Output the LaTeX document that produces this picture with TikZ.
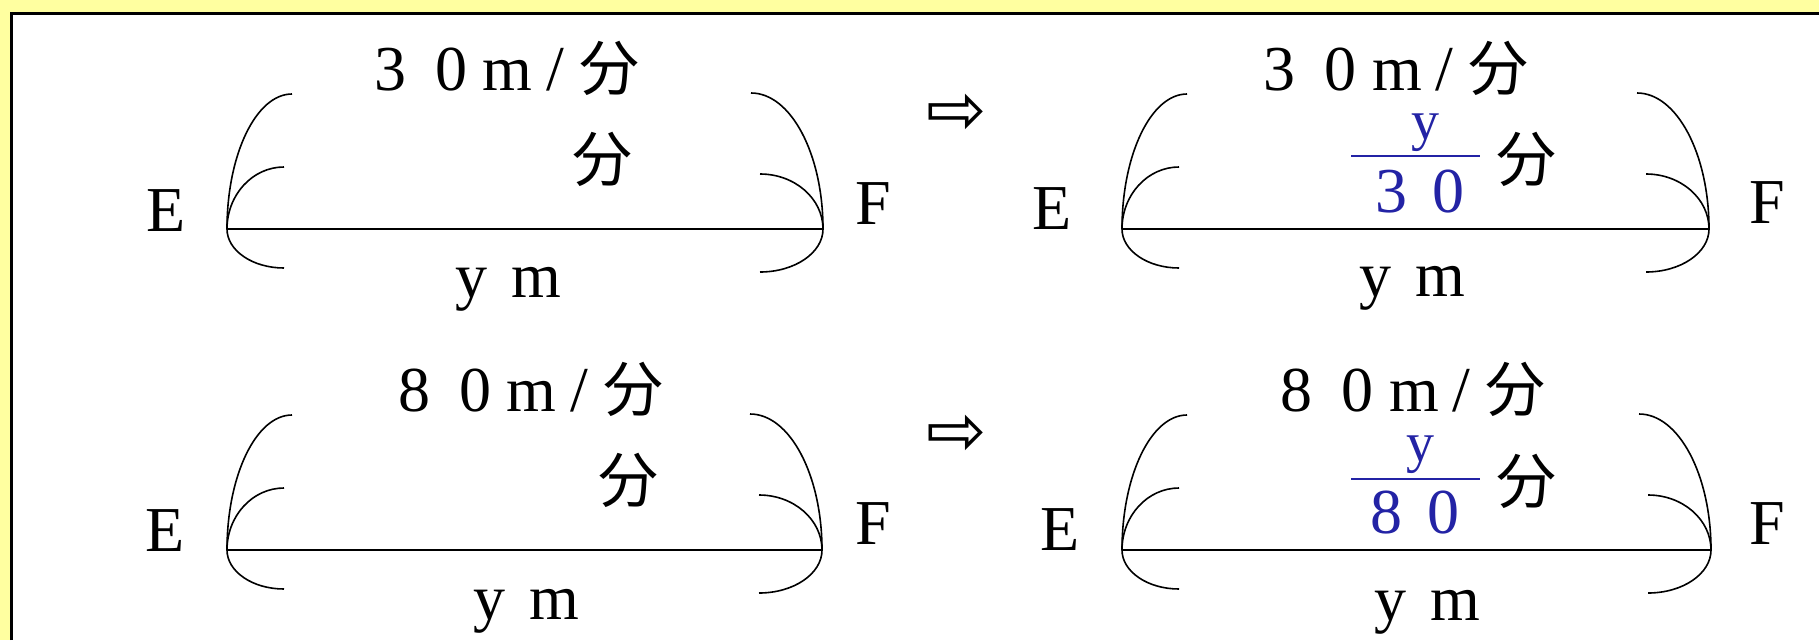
\documentclass[tikz,border=0pt]{standalone}
\usepackage{fontspec}
\setmainfont{Liberation Serif}
\newfontfamily\jp{Noto Sans CJK JP}
\newfontfamily\arrfont{DejaVu Sans}
\definecolor{bgyellow}{RGB}{255,255,160}
\definecolor{fracblue}{RGB}{35,35,165}
\newcommand{\kanjifont}{\jp\fontsize{60}{66}\selectfont}
\newcommand{\speedlab}[1]{\makebox[62pt][l]{#1}\makebox[47pt][l]{0}\makebox[96pt][l]{m\kern14pt/}{\kanjifont 分}}
\newcommand{\ymlab}{\makebox[57pt][l]{y}m}
\newcommand{\bracketpair}[2]{%
  \draw[seg] (#1) -- (#2);
  \draw[brk] (#1) arc[start angle=180,end angle=90,x radius=65pt,y radius=135pt];
  \draw[brk] (#1) arc[start angle=180,end angle=90,x radius=57pt,y radius=62pt];
  \draw[brk] (#1) arc[start angle=180,end angle=270,x radius=57pt,y radius=39pt];
  \draw[brk] (#2) arc[start angle=0,end angle=90,x radius=72pt,y radius=136pt];
  \draw[brk] (#2) arc[start angle=0,end angle=90,x radius=63pt,y radius=55pt];
  \draw[brk] (#2) arc[start angle=0,end angle=-90,x radius=63pt,y radius=43pt];
}
\begin{document}
\begin{tikzpicture}[x=1pt,y=-1pt,
  lab/.style={font=\fontsize{64}{70}\selectfont, inner sep=0pt, outer sep=0pt, anchor=base west},
  kanji/.style={font=\kanjifont, inner sep=0pt, outer sep=0pt, anchor=base west},
  fr/.style={font=\fontsize{64}{70}\selectfont, inner sep=0pt, outer sep=0pt, text=fracblue, anchor=base},
  frnum/.style={fr, font=\fontsize{56}{60}\selectfont},
  bar/.style={draw=fracblue, line width=2.5pt},
  seg/.style={line width=2.2pt},
  brk/.style={line width=1.6pt},
  arrowglyph/.style={font=\arrfont\fontsize{72}{76}\selectfont, inner sep=0pt, outer sep=0pt, anchor=center}
  ]
\useasboundingbox (0,0) rectangle (1819,640);
\fill[bgyellow] (0,0) rectangle (1819,640);
\fill[white] (11,13) rectangle (1819,640);
\draw[line width=3pt] (11,640) -- (11,13) -- (1819,13);

% ---------- top-left ----------
\coordinate (tlL) at (227,229);
\coordinate (tlR) at (823,229);
\bracketpair{tlL}{tlR}
\node[lab] (tlE) at (146,231) {E};
\node[lab] (tlF) at (855,224) {F};
\node[lab] (tlS) at (374,90) {\speedlab{3}};
\node[kanji] (tlK) at (572,181) {分};
\node[lab] (tlY) at (455,297) {\ymlab};

% ---------- top-right ----------
\node[arrowglyph] (tarr) at (957,114) {⇨};
\coordinate (trL) at (1122,229);
\coordinate (trR) at (1709,229);
\bracketpair{trL}{trR}
\node[lab] (trE) at (1032,229) {E};
\node[lab] (trF) at (1749,223) {F};
\node[lab] (trS) at (1263,90) {\speedlab{3}};
\node[frnum] (trN) at (1425,139) {y};
\coordinate (trB1) at (1351,156);
\coordinate (trB2) at (1480,156);
\draw[bar] (trB1) -- (trB2);
\node[fr] (trD) at (1420,212) {3\kern25pt0};
\node[kanji] (trK) at (1496,181) {分};
\node[lab] (trY) at (1359,296) {\ymlab};

% ---------- bottom-left ----------
\coordinate (blL) at (227,550);
\coordinate (blR) at (822,550);
\bracketpair{blL}{blR}
\node[lab] (blE) at (145,551) {E};
\node[lab] (blF) at (855,544) {F};
\node[lab] (blS) at (398,411) {\speedlab{8}};
\node[kanji] (blK) at (598,502) {分};
\node[lab] (blY) at (473,619) {\ymlab};

% ---------- bottom-right ----------
\node[arrowglyph] (barr) at (957,435) {⇨};
\coordinate (brL) at (1122,550);
\coordinate (brR) at (1711,550);
\bracketpair{brL}{brR}
\node[lab] (brE) at (1040,550) {E};
\node[lab] (brF) at (1749,544) {F};
\node[lab] (brS) at (1280,411) {\speedlab{8}};
\node[frnum] (brN) at (1420,461) {y};
\coordinate (brB1) at (1351,479);
\coordinate (brB2) at (1480,479);
\draw[bar] (brB1) -- (brB2);
\node[fr] (brD) at (1415,533) {8\kern25pt0};
\node[kanji] (brK) at (1496,503) {分};
\node[lab] (brY) at (1374,620) {\ymlab};
\end{tikzpicture}
\end{document}
